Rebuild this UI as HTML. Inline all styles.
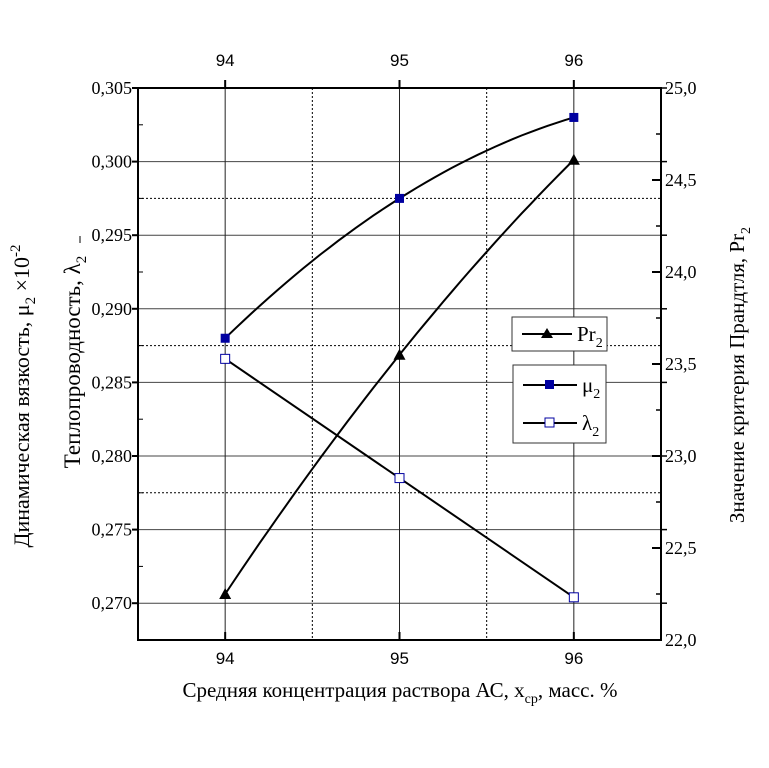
<!DOCTYPE html>
<html><head><meta charset="utf-8"><style>
body{margin:0;background:#fff}
svg{display:block;font-family:"Liberation Serif",serif}
</style></head><body>
<svg id="chart" width="769" height="768" viewBox="0 0 769 768" xmlns="http://www.w3.org/2000/svg">
<g id="grid"></g>
<g id="axes"></g>
<g id="series"></g>
<g id="legend-pr">
<rect x="512" y="317" width="95" height="34" fill="#fff" stroke="#333"/>
<line x1="522" y1="334" x2="572" y2="334" stroke="#000" stroke-width="2"/>
<polygon points="547,328 541,338 553,338" fill="#000"/>
<text x="577" y="341" font-size="21">Pr<tspan font-size="14" dy="6">2</tspan></text>
</g>
<g id="legend-mu-lambda">
<rect x="513" y="365" width="93" height="78" fill="#fff" stroke="#333"/>
<line x1="523" y1="385" x2="577" y2="385" stroke="#000" stroke-width="2"/>
<rect x="545" y="380" width="9" height="9" fill="#0000a0"/>
<text x="582" y="392" font-size="21">μ<tspan font-size="14" dy="6">2</tspan></text>
<line x1="523" y1="423" x2="577" y2="423" stroke="#000" stroke-width="2"/>
<rect x="545" y="418" width="9" height="9" fill="#fff" stroke="#0000a0"/>
<text x="582" y="430" font-size="21">λ<tspan font-size="14" dy="6">2</tspan></text>
</g>
<text x="400" y="697" text-anchor="middle" font-size="21">Средняя концентрация раствора АС, x<tspan font-size="14" dy="6">ср</tspan><tspan dy="-6">, масс. %</tspan></text>
<text transform="translate(29,396) rotate(-90)" text-anchor="middle" font-size="22">Динамическая вязкость, μ<tspan font-size="15" dy="6">2</tspan><tspan dy="-6"> ×10</tspan><tspan font-size="15" dy="-9">-2</tspan></text>
<text transform="translate(80,362) rotate(-90)" text-anchor="middle" font-size="23">Теплопроводность, λ<tspan font-size="15" dy="6">2</tspan></text>
<line x1="80" y1="236" x2="80" y2="243" stroke="#000"/>
<text transform="translate(744,375) rotate(-90)" text-anchor="middle" font-size="21">Значение критерия Прандтля, Pr<tspan font-size="14" dy="6">2</tspan></text>
<script>
const categories=[94,95,96];
const muValues=[0.288,0.2975,0.303];
const lambdaValues=[0.2866,0.2785,0.2704];
const prValues=[22.25,23.55,24.61];
const leftTicks=[0.270,0.275,0.280,0.285,0.290,0.295,0.300,0.305];
const dottedLevels=[0.2775,0.2875,0.2975];
const rightTicks=[22.0,22.5,23.0,23.5,24.0,24.5,25.0];
const NS="http://www.w3.org/2000/svg";
const L=138,R=661,T=88,B=640;
const xs=v=>L+(v-93.5)/3*(R-L);
const yl=v=>T+(0.305-v)/(0.305-0.2675)*(B-T);
const yr=v=>T+(25-v)/3*(B-T);
function mk(p,tag,a){const e=document.createElementNS(NS,tag);for(const k in a)e.setAttribute(k,a[k]);p.appendChild(e);return e;}
const g=document.getElementById('grid'),ax=document.getElementById('axes'),s=document.getElementById('series');
leftTicks.forEach(t=>{const l=mk(g,'line',{x1:L,x2:R,y1:yl(t),y2:yl(t),stroke:'#444','stroke-width':1});

});
dottedLevels.forEach(t=>{const d=mk(g,'line',{x1:L,x2:R,y1:yl(t),y2:yl(t),stroke:'#000','stroke-dasharray':'2,2'});

});
categories.forEach(c=>{const l=mk(g,'line',{x1:xs(c),x2:xs(c),y1:T,y2:B,stroke:'#222'});

});
[94.5,95.5].forEach(c=>{const l=mk(g,'line',{x1:xs(c),x2:xs(c),y1:T,y2:B,stroke:'#000','stroke-dasharray':'2,2'});

});
mk(ax,'rect',{x:L,y:T,width:R-L,height:B-T,fill:'none',stroke:'#000','stroke-width':2});
categories.forEach(c=>{
mk(ax,'line',{x1:xs(c),x2:xs(c),y1:B,y2:B-8,stroke:'#000','stroke-width':2});
mk(ax,'line',{x1:xs(c),x2:xs(c),y1:T,y2:T-8,stroke:'#000','stroke-width':2});
const t1=mk(ax,'text',{x:xs(c),y:B+24,'text-anchor':'middle','font-size':17,'font-family':'Liberation Sans, sans-serif'});t1.textContent=c;


const t2=mk(ax,'text',{x:xs(c),y:T-22,'text-anchor':'middle','font-size':17,'font-family':'Liberation Sans, sans-serif'});t2.textContent=c;

});
leftTicks.forEach(t=>{mk(ax,'line',{x1:L-6,x2:L,y1:yl(t),y2:yl(t),stroke:'#000','stroke-width':2});
mk(ax,'line',{x1:L,x2:L+5,y1:yl(t-0.0025),y2:yl(t-0.0025),stroke:'#000'});
mk(ax,'line',{x1:R,x2:R+6,y1:yl(t),y2:yl(t),stroke:'#000','stroke-width':1.5});
const e=mk(ax,'text',{x:L-6,y:yl(t)+6,'text-anchor':'end','font-size':18});e.textContent=t.toFixed(3).replace('.',',');

});
rightTicks.forEach(t=>{mk(ax,'line',{x1:R-9,x2:R,y1:yr(t),y2:yr(t),stroke:'#000','stroke-width':2});
if(t<25)mk(ax,'line',{x1:R-5,x2:R,y1:yr(t+0.25),y2:yr(t+0.25),stroke:'#000','stroke-width':1.5});
const e=mk(ax,'text',{x:R+4,y:yr(t)+6,'font-size':18});e.textContent=t.toFixed(1).replace('.',',');

});
function curve(vals,yf){const x0=categories[0],x1=categories[1],x2=categories[2];const [a,b,c]=vals;let d='';
for(let i=0;i<=40;i++){const x=x0+(x2-x0)*i/40;
const v=a*(x-x1)*(x-x2)/((x0-x1)*(x0-x2))+b*(x-x0)*(x-x2)/((x1-x0)*(x1-x2))+c*(x-x0)*(x-x1)/((x2-x0)*(x2-x1));
d+=(i?'L':'M')+xs(x).toFixed(1)+','+yf(v).toFixed(1);}return d;}
const p1=mk(s,'path',{d:curve(muValues,yl),fill:'none',stroke:'#000','stroke-width':2});


const p2=mk(s,'path',{d:curve(prValues,yr),fill:'none',stroke:'#000','stroke-width':2});


const p3=mk(s,'polyline',{points:categories.map((c,i)=>xs(c)+','+yl(lambdaValues[i])).join(' '),fill:'none',stroke:'#000','stroke-width':2});


categories.forEach((c,i)=>{
const m=mk(s,'rect',{x:xs(c)-4.5,y:yl(muValues[i])-4.5,width:9,height:9,fill:'#0000a0'});


const l=mk(s,'rect',{x:xs(c)-4.5,y:yl(lambdaValues[i])-4.5,width:9,height:9,fill:'#fff',stroke:'#0000a0'});


const x=xs(c),y=yr(prValues[i]);
const p=mk(s,'polygon',{points:`${x},${y-6} ${x-6},${y+5} ${x+6},${y+5}`,fill:'#000'});

});
</script>
</svg>
</body></html>
